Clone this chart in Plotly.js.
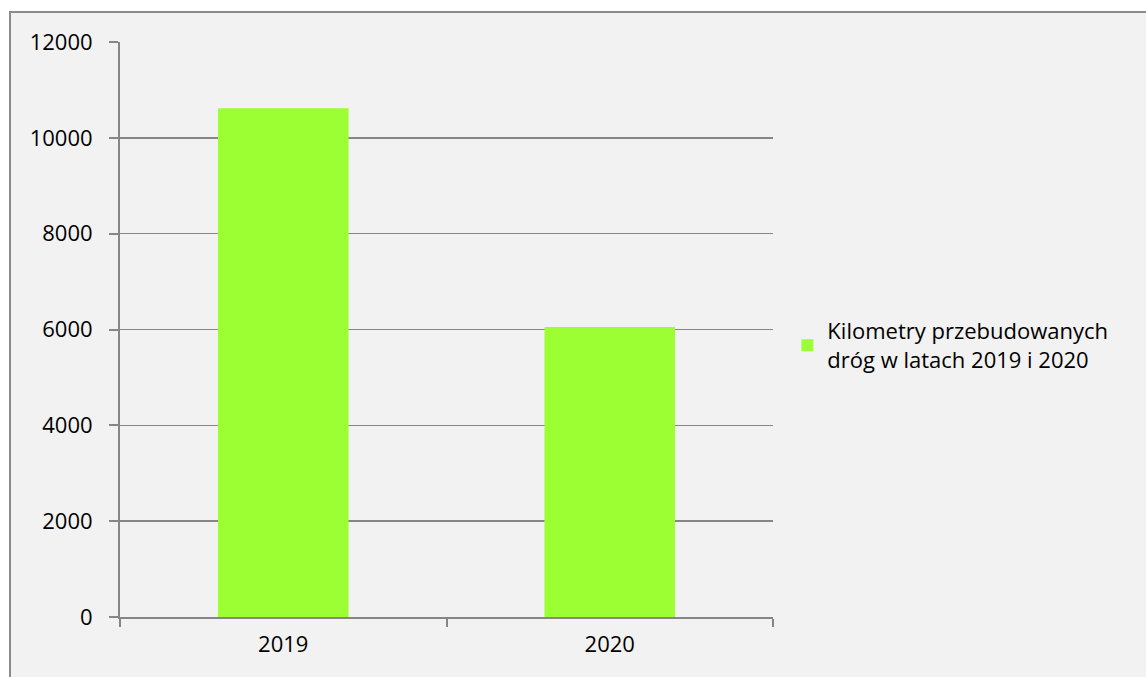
<!DOCTYPE html>
<html>
<head>
<meta charset="utf-8">
<script src="https://cdn.plot.ly/plotly-3.0.1.min.js"></script>
<style>
html,body{margin:0;padding:0;background:#ffffff;width:1146px;height:677px;overflow:hidden;}
#frame{position:absolute;left:9px;top:11px;width:1137px;height:666px;border-top:2px solid #8c8c8c;border-left:2px solid #8c8c8c;box-sizing:border-box;background:#f2f2f2;}
#chart{width:1135px;height:664px;}
</style>
</head>
<body>
<div id="frame"><div id="chart"></div></div>
<script>
const categories = ["2019", "2020"];
const values = [10615, 6050];
const seriesName = "Kilometry przebudowanych<br>dróg w latach 2019 i 2020";
const yTicks = [0, 2000, 4000, 6000, 8000, 10000, 12000];

const trace = {
  type: "bar",
  x: categories,
  y: values,
  name: seriesName,
  marker: {color: "#9bff33", line: {width: 0}},
  showlegend: true,
  hoverinfo: "x+y"
};

const font = {family: "Open Sans, Noto Sans, sans-serif", size: 22, color: "#000000"};

const layout = {
  width: 1135,
  height: 664,
  paper_bgcolor: "#f2f2f2",
  plot_bgcolor: "#f2f2f2",
  margin: {l: 109, r: 373, t: 29, b: 60},
  font: font,
  bargap: 0.6,
  showlegend: true,
  legend: {
    x: 1.022, xanchor: "left",
    y: 0.472, yanchor: "middle",
    bgcolor: "rgba(0,0,0,0)",
    font: {family: font.family, size: 22, color: "#000"},
    itemwidth: 30,
    tracegroupgap: 0
  },
  xaxis: {
    type: "category",
    showline: true,
    linecolor: "#868686",
    linewidth: 2,
    ticks: "outside",
    tickson: "boundaries",
    ticklen: 8,
    tickwidth: 2,
    tickcolor: "#868686",
    showgrid: false,
    zeroline: false,
    ticklabelstandoff: 7,
    tickfont: font
  },
  yaxis: {
    range: [0, 12000],
    tickvals: yTicks,
    ticktext: yTicks.map(String),
    showline: true,
    linecolor: "#868686",
    linewidth: 2,
    ticks: "outside",
    ticklen: 9,
    tickwidth: 2,
    tickcolor: "#868686",
    showgrid: true,
    gridcolor: "#868686",
    gridwidth: 1.5,
    zeroline: false,
    ticklabelstandoff: 12,
    tickfont: font
  }
};

Plotly.newPlot("chart", [trace], layout, {displayModeBar: false, staticPlot: true});
</script>
</body>
</html>
